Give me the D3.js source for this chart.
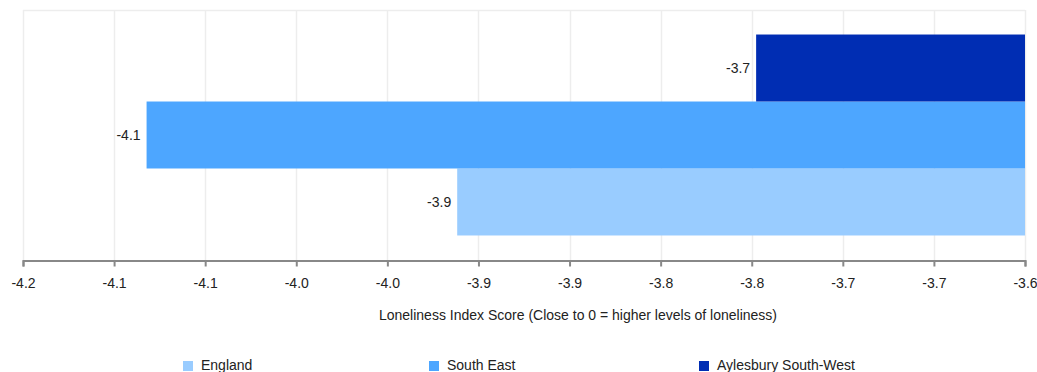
<!DOCTYPE html>
<html>
<head>
<meta charset="utf-8">
<script src="https://cdn.jsdelivr.net/npm/d3@7"></script>
<style>
  html, body { margin: 0; padding: 0; background: #fff; }
  svg { display: block; font-family: "Liberation Sans", Arial, sans-serif; }
</style>
</head>
<body>
<svg id="chart" width="1037" height="372"></svg>
<script>
// ---- data ----
const seriesNames = ["England", "South East", "Aylesbury South-West"];
const seriesValues = [-3.94, -4.126, -3.761];
const seriesColors = ["#99CCFF", "#4DA6FF", "#002DB3"];
const barOrder = ["Aylesbury South-West", "South East", "England"]; // top to bottom
const axisMin = -4.2, axisMax = -3.6, tickCount = 12;
const axisTitle = "Loneliness Index Score (Close to 0 = higher levels of loneliness)";

const svg = d3.select("#chart");
const W = 1037, H = 372;
const margin = { left: 23, right: 12, top: 10, bottom: 112 };
const plotL = margin.left, plotR = W - margin.right, plotT = margin.top, plotB = H - margin.bottom;

const x = d3.scaleLinear().domain([axisMin, axisMax]).range([plotL, plotR]);
const tickVals = d3.range(tickCount).map(i => axisMin + (axisMax - axisMin) * i / (tickCount - 1));

const group = d3.scaleBand().domain(["all"]).range([plotT, plotB]).paddingOuter(0.122).paddingInner(0);
const y = d3.scaleBand().domain(barOrder).range([group("all"), group("all") + group.bandwidth()]).padding(0);

// grid
const grid = svg.append("g");
grid.selectAll("line.v").data(tickVals).enter().append("line")
  .attr("x1", d => Math.round(x(d)) + 0.5).attr("x2", d => Math.round(x(d)) + 0.5)
  .attr("y1", plotT).attr("y2", plotB)
  .attr("stroke", "#ededed").attr("stroke-width", 1.5);
grid.append("line").attr("x1", plotL).attr("x2", x(axisMax)).attr("y1", plotT + 0.5).attr("y2", plotT + 0.5)
  .attr("stroke", "#ededed").attr("stroke-width", 1.5);

// bars
const data = seriesNames.map((n, i) => ({ name: n, value: seriesValues[i], color: seriesColors[i] }));
svg.append("g").selectAll("rect").data(data).enter().append("rect")
  .attr("x", d => x(d.value))
  .attr("width", d => x(axisMax) - x(d.value))
  .attr("y", d => y(d.name))
  .attr("height", y.bandwidth())
  .attr("fill", d => d.color);

// data labels
const fmtLabel = v => (Math.trunc(v * 10) / 10).toFixed(1);
svg.append("g").selectAll("text").data(data).enter().append("text")
  .attr("x", d => x(d.value) - 6)
  .attr("y", d => y(d.name) + y.bandwidth() / 2)
  .attr("dy", "0.35em")
  .attr("text-anchor", "end")
  .attr("font-size", 14)
  .attr("fill", "#222")
  .text(d => fmtLabel(d.value));

// x axis
const xAxis = d3.axisBottom(x).tickValues(tickVals).tickFormat(d => d3.format(".1f")(d).replace("−", "-")).tickSizeOuter(0).tickSize(6).tickPadding(12);
const ax = svg.append("g").attr("transform", `translate(0,${plotB + 0.5})`).call(xAxis);
ax.select(".domain").attr("stroke", "#888").attr("stroke-width", 2);
ax.selectAll(".tick line").attr("stroke", "#888").attr("stroke-width", 2);
ax.selectAll(".tick text").attr("font-size", 14).attr("fill", "#222").attr("font-family", "Liberation Sans, Arial, sans-serif");

// axis title
svg.append("text")
  .attr("x", 578).attr("y", 320)
  .attr("text-anchor", "middle")
  .attr("font-size", 14).attr("fill", "#222")
  .text(axisTitle);

// legend (item left positions are layout)
const legendX = d3.scalePoint().domain(seriesNames).range([183, 699]);
const legendPos = { "England": 183, "South East": 429, "Aylesbury South-West": 699 };
const legend = svg.append("g");
data.forEach(d => {
  const g = legend.append("g").attr("transform", `translate(${legendPos[d.name]},0)`);
  g.append("rect").attr("x", 0).attr("y", 361).attr("width", 10).attr("height", 10).attr("fill", d.color);
  g.append("text").attr("x", 18).attr("y", 370).attr("font-size", 14).attr("fill", "#222").text(d.name);
});
</script>
</body>
</html>
